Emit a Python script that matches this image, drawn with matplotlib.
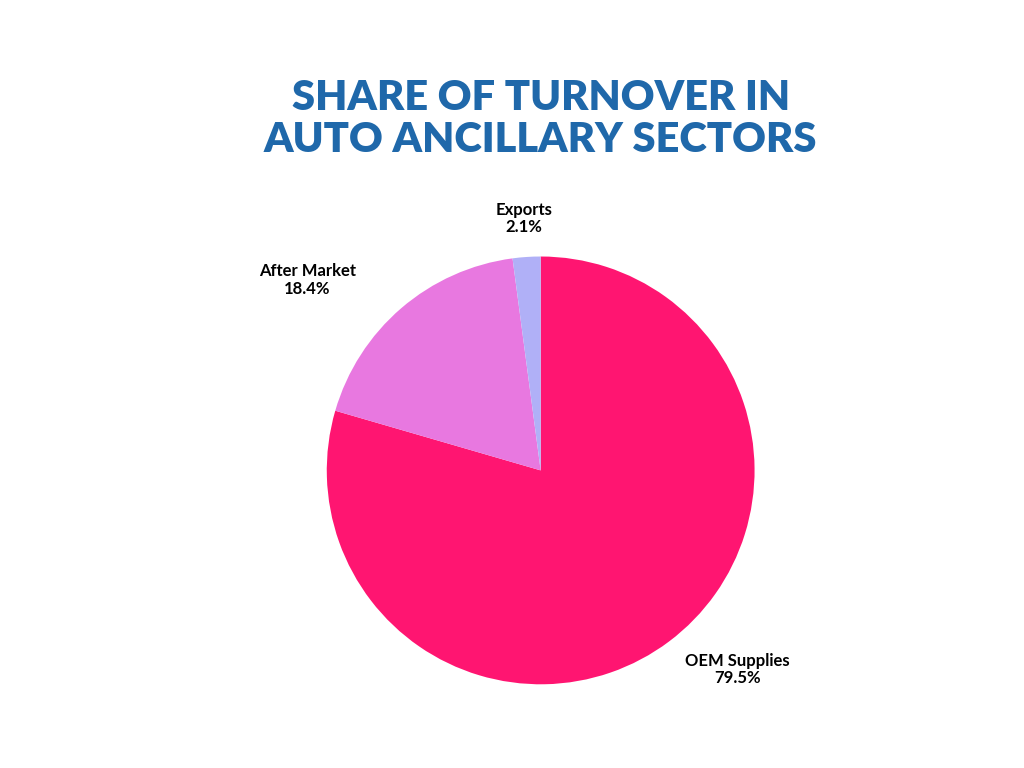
import matplotlib.pyplot as plt

sectors = ["OEM Supplies", "After Market", "Exports"]
shares = [79.5, 18.4, 2.1]
colors = ["#FF1571", "#E878E0", "#B0B0F7"]

fig = plt.figure(figsize=(10.24, 7.68), dpi=100)
ax = fig.add_axes([0.319, 0.109, 0.418, 0.557])

labels = [f"{s}\n{v}%" for s, v in zip(sectors, shares)]
wedges, texts = ax.pie(shares, colors=colors, startangle=90, counterclock=False,
                       labels=labels, labeldistance=1.18,
                       textprops=dict(fontsize=12, fontweight="bold", family="Lato",
                                      ha="center", va="center", linespacing=1.1))
# nudge labels to where the original places them
texts[0].set_position((0.92, -0.93))
texts[1].set_position((-1.09, 0.89))
texts[2].set_ha("center")
ax.set_xlim(-1, 1)
ax.set_ylim(-1, 1)
ax.set_aspect("equal")

fig.text(0.528, 0.845, "SHARE OF TURNOVER IN\nAUTO ANCILLARY SECTORS", ha="center", va="center",
         fontsize=30, fontweight="heavy", family="Lato", color="#1F68AA", linespacing=1.12)

fig.savefig("out.png", dpi=100, facecolor="white")
